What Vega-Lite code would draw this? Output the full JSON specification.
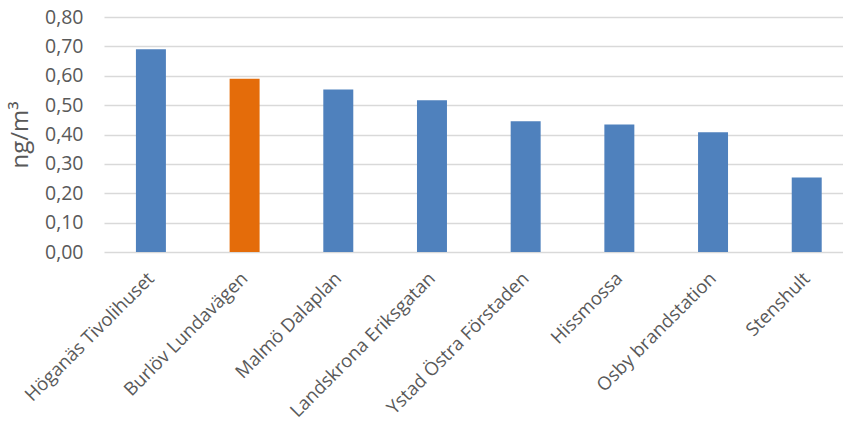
{
  "$schema": "https://vega.github.io/schema/vega-lite/v6.json",
  "autosize": {"type": "none"},
  "width": 739,
  "height": 235,
  "padding": {"left": 104, "top": 17, "right": 0, "bottom": 176},
  "background": "white",
  "data": {
    "values": [
      {"station": "Höganäs Tivolihuset", "value": 0.69, "group": "other"},
      {"station": "Burlöv Lundavägen", "value": 0.59, "group": "highlight"},
      {"station": "Malmö Dalaplan", "value": 0.553, "group": "other"},
      {"station": "Landskrona Eriksgatan", "value": 0.517, "group": "other"},
      {"station": "Ystad Östra Förstaden", "value": 0.445, "group": "other"},
      {"station": "Hissmossa", "value": 0.434, "group": "other"},
      {"station": "Osby brandstation", "value": 0.408, "group": "other"},
      {"station": "Stenshult", "value": 0.254, "group": "other"}
    ]
  },
  "config": {
    "font": "Open Sans",
    "view": {"stroke": null}
  },
  "mark": {"type": "bar"},
  "encoding": {
    "x": {
      "field": "station",
      "type": "nominal",
      "sort": null,
      "scale": {"paddingInner": 0.68, "paddingOuter": 0.284, "align": 0.6},
      "axis": {
        "title": null,
        "labelAngle": -45,
        "labelAlign": "right",
        "labelBaseline": "middle",
        "labelFontSize": 18.5,
        "labelColor": "#595959",
        "labelPadding": 23,
        "labelLimit": 400,
        "ticks": false,
        "domain": false
      }
    },
    "y": {
      "field": "value",
      "type": "quantitative",
      "scale": {"domain": [0, 0.8]},
      "axis": {
        "title": "ng/m³",
        "titleFontSize": 24,
        "titleFontWeight": "normal",
        "titleColor": "#595959",
        "titlePadding": 12,
        "values": [0, 0.1, 0.2, 0.3, 0.4, 0.5, 0.6, 0.7, 0.8],
        "labelExpr": "replace(format(datum.value, '.2f'), '.', ',')",
        "labelFontSize": 19.5,
        "labelColor": "#595959",
        "labelPadding": 21,
        "ticks": false,
        "domain": false,
        "gridColor": "#D9D9D9",
        "gridWidth": 1.5
      }
    },
    "color": {
      "field": "group",
      "type": "nominal",
      "scale": {"domain": ["other", "highlight"], "range": ["#4F81BD", "#E46C0A"]},
      "legend": null
    }
  }
}
